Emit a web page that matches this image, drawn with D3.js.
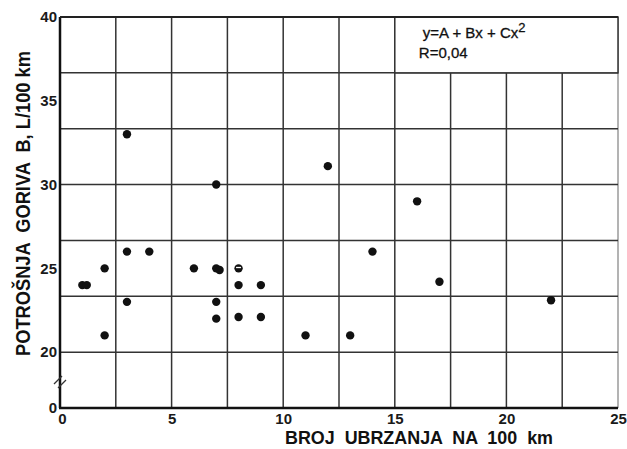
<!DOCTYPE html>
<html lang="sr">
<head>
  <meta charset="UTF-8">
  <title>Potrošnja goriva</title>
  <script src="https://d3js.org/d3.v7.min.js"></script>
  <style>
    html, body { margin: 0; padding: 0; background: #fff; }
    svg { display: block; font-family: "Liberation Sans", Arial, sans-serif; }
    .tick text { fill: #1a1a1a; font-weight: bold; font-size: 15px; }
    .title { fill: #111; font-weight: bold; white-space: pre; }
  </style>
</head>
<body>
  <div id="chart"></div>
  <script>
    // broj ubrzanja na 100 km / potrosnja goriva (L/100 km)
    var ubrzanja = [3, 7, 12, 16, 3, 4, 14, 2, 6, 7, 7.15, 8, 1, 1.2, 8, 9, 17, 3, 7, 22, 7, 8, 9, 11, 13, 2];
    var potrosnja = [33, 30, 31.1, 29, 26, 26, 26, 25, 25, 25, 24.9, 25, 24, 24, 24, 24, 24.2, 23, 23, 23.1, 22, 22.1, 22.1, 21, 21, 21];
    var xTicks = [0, 5, 10, 15, 20, 25];
    var yTicks = [50 / 3, 20, 25, 30, 35, 40];
    var yTickLabels = ["0", "20", "25", "30", "35", "40"];
    var eqLines = ["y=A + Bx + Cx", "R=0,04"];

    var width = 627, height = 449,
        margin = { top: 17, right: 9, bottom: 41, left: 60 };

    var svg = d3.select("#chart").append("svg")
      .attr("width", width)
      .attr("height", height);

    var x = d3.scaleLinear().domain([0, 25]).range([margin.left, width - margin.right]);
    var y = d3.scaleLinear().domain([50 / 3, 40]).range([height - margin.bottom, margin.top]);

    var g = svg.append("g");

    // mreza
    g.selectAll(".vgrid")
      .data(d3.range(2.5, 25.01, 2.5))
      .enter().append("line")
      .attr("class", "vgrid")
      .attr("x1", function(d) { return x(d); })
      .attr("x2", function(d) { return x(d); })
      .attr("y1", y(40))
      .attr("y2", y(50 / 3))
      .attr("stroke", function(d) { return d === 25 ? "#9a9a9a" : "#333"; })
      .attr("stroke-width", 1.5);

    g.selectAll(".hgrid")
      .data(d3.range(20, 40.01, 10 / 3))
      .enter().append("line")
      .attr("class", "hgrid")
      .attr("x1", x(0))
      .attr("x2", x(25))
      .attr("y1", function(d) { return y(d); })
      .attr("y2", function(d) { return y(d); })
      .attr("stroke", "#333")
      .attr("stroke-width", 1.5);

    // okvir sa jednacinom
    g.append("rect")
      .attr("x", x(15))
      .attr("y", y(40))
      .attr("width", x(25) - x(15))
      .attr("height", y(110 / 3) - y(40))
      .attr("fill", "#fff")
      .attr("stroke", "#333")
      .attr("stroke-width", 1.5);

    var eq = g.append("text")
      .attr("x", x(15) + 28)
      .attr("y", y(40) + 21)
      .attr("font-size", "15px")
      .attr("fill", "#111")
      .attr("stroke", "#111")
      .attr("stroke-width", 0.3)
      .text(eqLines[0]);
    eq.append("tspan")
      .attr("dy", -6)
      .attr("font-size", "13px")
      .text("2");

    g.append("text")
      .attr("x", x(15) + 24)
      .attr("y", y(40) + 41)
      .attr("font-size", "15px")
      .attr("fill", "#111")
      .attr("stroke", "#111")
      .attr("stroke-width", 0.3)
      .text(eqLines[1]);

    // osovine
    g.append("line")
      .attr("x1", x(0)).attr("x2", x(0))
      .attr("y1", y(40)).attr("y2", y(50 / 3))
      .attr("stroke", "#111").attr("stroke-width", 2.5);
    g.append("line")
      .attr("x1", x(0) - 1).attr("x2", x(25))
      .attr("y1", y(50 / 3)).attr("y2", y(50 / 3))
      .attr("stroke", "#111").attr("stroke-width", 2.5);
    g.append("line")
      .attr("x1", x(0)).attr("x2", x(25))
      .attr("y1", y(40)).attr("y2", y(40))
      .attr("stroke", "#222").attr("stroke-width", 1.8);

    // prekid osovine
    var by = (y(20) + y(50 / 3)) / 2 + 2;
    [-2, 2].forEach(function(o) {
      g.append("line")
        .attr("x1", x(0) - 4 + o).attr("y1", by + 4 + o)
        .attr("x2", x(0) + 4 + o).attr("y2", by - 4 + o)
        .attr("stroke", "#333").attr("stroke-width", 1.3);
    });

    var xAxis = svg.append("g")
      .attr("transform", "translate(0," + y(50 / 3) + ")")
      .call(d3.axisBottom(x).tickValues(xTicks).tickSize(0).tickPadding(5));
    xAxis.select(".domain").remove();
    xAxis.selectAll(".tick text").attr("dx", function(d) { return d === 0 ? 2 : 0; });

    var yAxis = svg.append("g")
      .attr("transform", "translate(" + x(0) + ",0)")
      .call(d3.axisLeft(y).tickValues(yTicks).tickSize(0).tickPadding(3)
        .tickFormat(function(d, i) { return yTickLabels[i]; }));
    yAxis.select(".domain").remove();

    // tacke
    var pts = ubrzanja.map(function(d, i) { return { x: d, y: potrosnja[i] }; });
    g.selectAll(".dot")
      .data(pts)
      .enter().append("circle")
      .attr("class", "dot")
      .attr("cx", function(d) { return x(d.x); })
      .attr("cy", function(d) { return y(d.y); })
      .attr("r", 4.2)
      .attr("fill", "#111");

    // tacka sa belim znakom (8, 25)
    g.append("rect")
      .attr("x", x(8) - 2.5).attr("y", y(25) - 1.5)
      .attr("width", 5).attr("height", 1.3)
      .attr("fill", "#fff");

    // naslovi osa
    svg.append("text")
      .attr("class", "title")
      .attr("x", 285)
      .attr("y", 444)
      .attr("font-size", "19px")
      .attr("textLength", 268)
      .attr("lengthAdjust", "spacingAndGlyphs")
      .text("BROJ  UBRZANJA  NA  100  km");

    svg.append("text")
      .attr("class", "title")
      .attr("transform", "translate(30,356) rotate(-90)")
      .attr("font-size", "20px")
      .attr("textLength", 305)
      .attr("lengthAdjust", "spacingAndGlyphs")
      .text("POTROŠNJA  GORIVA  B, L/100 km");
  </script>
</body>
</html>
